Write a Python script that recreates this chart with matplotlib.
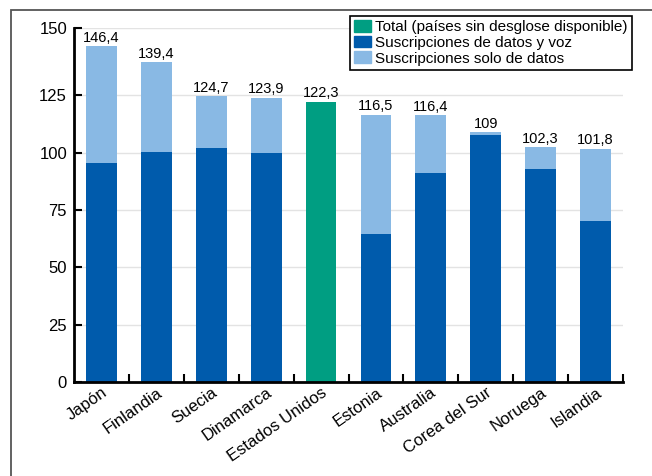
import matplotlib.pyplot as plt
import numpy as np
from matplotlib.patches import Patch, Rectangle
from matplotlib.transforms import ScaledTranslation

plt.rcParams["font.family"] = ["Liberation Sans", "DejaVu Sans"]

# Datos
paises = ["Japón", "Finlandia", "Suecia", "Dinamarca", "Estados Unidos",
          "Estonia", "Australia", "Corea del Sur", "Noruega", "Islandia"]
totales = [146.4, 139.4, 124.7, 123.9, 122.3, 116.5, 116.4, 109, 102.3, 101.8]
datos_y_voz = [95.5, 100.5, 102.0, 100.0, 0.0, 64.5, 91.0, 107.5, 93.0, 70.0]
sin_desglose = [False, False, False, False, True, False, False, False, False, False]
y_ticks = [0, 25, 50, 75, 100, 125, 150]

col_total = "#009E82"
col_voz = "#005BAC"
col_datos = "#89B9E4"

totales = np.array(totales)
datos_y_voz = np.array(datos_y_voz)
sin_desglose = np.array(sin_desglose)
solo_datos = np.where(sin_desglose, 0, totales - datos_y_voz)
x = np.arange(len(paises))

fig = plt.figure(figsize=(6.52, 4.76), dpi=100)
ax = fig.add_axes([74 / 652, 1 - 382 / 476, 549 / 652, 354.3 / 476])

w = 0.56
ax.bar(x[~sin_desglose], datos_y_voz[~sin_desglose], w, color=col_voz)
ax.bar(x[~sin_desglose], solo_datos[~sin_desglose], w,
       bottom=datos_y_voz[~sin_desglose], color=col_datos)
ax.bar(x[sin_desglose], totales[sin_desglose], w, color=col_total)

for xi, v in zip(x, totales):
    ax.annotate(f"{v:g}".replace(".", ","), (xi, v), xytext=(0, 1),
                textcoords="offset points", ha="center", va="bottom",
                fontsize=10.5)

# el eje superior llega algo por encima de 150 en la escala real
y_top = 154.5
ax.set_ylim(0, y_top)
ax.set_xlim(-0.5, len(paises) - 0.5)
ax.set_yticks(y_ticks[:-1] + [y_top])
ax.set_yticklabels([str(t) for t in y_ticks], fontsize=12)
ax.set_xticks(x)
ax.set_xticklabels(paises, rotation=35, ha="right", rotation_mode="anchor",
                   fontsize=12)
off = ScaledTranslation(8 / 72, 0, fig.dpi_scale_trans)
for lab in ax.get_xticklabels():
    lab.set_transform(lab.get_transform() + off)
ax.set_xticks(np.arange(0.5, len(paises), 1), minor=True)
ax.tick_params(axis="x", which="major", length=0, pad=2)
ax.tick_params(axis="x", which="minor", direction="in", length=6, width=1.5)
ax.tick_params(axis="y", direction="in", length=6, width=1.5, pad=5)

for s in ["top", "right"]:
    ax.spines[s].set_visible(False)
for s in ["left", "bottom"]:
    ax.spines[s].set_linewidth(2)
ax.yaxis.grid(True, color="#e3e3e3", lw=1)
ax.set_axisbelow(True)

handles = [Patch(color=col_total, label="Total (países sin desglose disponible)"),
           Patch(color=col_voz, label="Suscripciones de datos y voz"),
           Patch(color=col_datos, label="Suscripciones solo de datos")]
leg = fig.legend(handles=handles, loc="upper right",
                 bbox_to_anchor=(632 / 652, 1 - 15.5 / 476), borderaxespad=0,
                 fontsize=11, fancybox=False, framealpha=1, edgecolor="black",
                 handlelength=1.1, handleheight=0.8, handletextpad=0.25,
                 labelspacing=0.1, borderpad=0.3)
leg.get_frame().set_linewidth(1.2)

# marco exterior de la figura
fig.add_artist(Rectangle((11 / 652, -0.1), 1.2, 1.1 - 10 / 476, fill=False,
                         ec="#555555", lw=1.3, transform=fig.transFigure))

fig.savefig("out.png", dpi=100)
